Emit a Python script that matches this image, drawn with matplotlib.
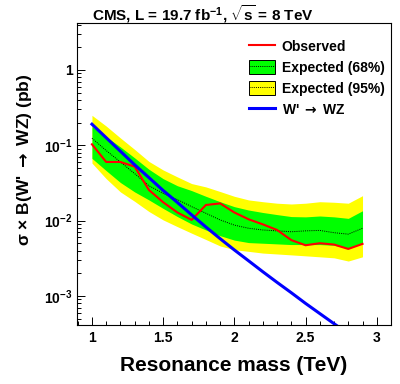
import numpy as np
import matplotlib
matplotlib.use("Agg")
import matplotlib.pyplot as plt
from matplotlib.lines import Line2D
from matplotlib.patches import Patch
from matplotlib.ticker import FixedLocator, FixedFormatter, MultipleLocator

plt.rcParams['font.family'] = ['Liberation Sans', 'DejaVu Sans']
plt.rcParams['font.weight'] = 'bold'
plt.rcParams['mathtext.fontset'] = 'custom'
plt.rcParams['mathtext.rm'] = 'Liberation Sans:bold'
plt.rcParams['mathtext.bf'] = 'Liberation Sans:bold'
plt.rcParams['mathtext.it'] = 'Liberation Sans:bold'
plt.rcParams['mathtext.sf'] = 'DejaVu Sans'
plt.rcParams['mathtext.default'] = 'rm'

# Масса резонанса (ТэВ)
mass = [1.0, 1.1, 1.2, 1.3, 1.4, 1.5, 1.6, 1.7, 1.8, 1.9,
        2.0, 2.1, 2.2, 2.3, 2.4, 2.5, 2.6, 2.7, 2.8, 2.9]

# Наблюдаемый предел (pb)
observed = [0.103, 0.060, 0.060, 0.052, 0.0255, 0.0175, 0.0128, 0.0102, 0.0161, 0.0169,
            0.0128, 0.0104, 0.0089, 0.0075, 0.0055, 0.0047, 0.0050, 0.0048, 0.0042, 0.0049]

# Ожидаемый предел (медиана)
expected = [0.124, 0.085, 0.060, 0.042, 0.029, 0.023, 0.019, 0.0153, 0.0125, 0.0102,
            0.0087, 0.0079, 0.0075, 0.0073, 0.0071, 0.0073, 0.0074, 0.0069, 0.0066, 0.0079]

# Полосы 68% и 95%
exp68_hi = [0.177, 0.13, 0.095, 0.068, 0.048, 0.036, 0.029, 0.025, 0.021, 0.0178,
            0.0153, 0.0138, 0.0128, 0.012, 0.0113, 0.0112, 0.0115, 0.0112, 0.0107, 0.0135]
exp68_lo = [0.067, 0.046, 0.032, 0.024, 0.0188, 0.0145, 0.0113, 0.0090, 0.0075, 0.0063,
            0.0055, 0.0051, 0.0050, 0.0049, 0.0048, 0.0048, 0.0048, 0.0047, 0.0043, 0.0050]
exp95_hi = [0.25, 0.18, 0.125, 0.088, 0.061, 0.047, 0.038, 0.031, 0.028, 0.0243,
            0.021, 0.0188, 0.0178, 0.017, 0.0166, 0.017, 0.0178, 0.0175, 0.017, 0.0214]
exp95_lo = [0.058, 0.036, 0.024, 0.018, 0.0132, 0.0102, 0.0083, 0.0068, 0.0056, 0.0046,
            0.0041, 0.0039, 0.0037, 0.0036, 0.0035, 0.0034, 0.0033, 0.0032, 0.0029, 0.0033]

# Теория W' -> WZ
theory_mass = [1.0, 1.1, 1.2, 1.3, 1.4, 1.5, 1.6, 1.7, 1.8, 1.9,
               2.0, 2.1, 2.2, 2.3, 2.4, 2.5, 2.6, 2.7, 2.8]
theory = [0.1905, 0.126, 0.0832, 0.0550, 0.0372, 0.0251, 0.0174, 0.0119, 0.00822, 0.00575,
          0.00407, 0.00292, 0.00209, 0.00151, 0.00110, 0.000794, 0.000582, 0.000427, 0.000313]

yticks = [1e-3, 1e-2, 1e-1, 1]
ytick_labels = ['10$^{-3}$', '10$^{-2}$', '10$^{-1}$', '1']

fig = plt.figure(figsize=(4, 3.84), dpi=100)
ax = fig.add_axes([0.1925, 0.1536, 0.785, 0.7864])

ax.fill_between(mass, exp95_lo, exp95_hi, color='#ffff00', lw=0)
ax.fill_between(mass, exp68_lo, exp68_hi, color='#00ff00', lw=0)
ax.plot(mass, expected, color='black', lw=0.7, ls=(0, (1, 1.2)))
ax.plot(mass, observed, color='#ff0000', lw=1.5)
ax.plot(theory_mass, theory, color='#0000ff', lw=2.2)

ax.set_yscale('log')
ax.set_xlim(0.895, 3.1)
ax.set_ylim(4.1e-4, 4.2)

ax.xaxis.set_minor_locator(MultipleLocator(0.1))
ax.set_xticks([1, 1.5, 2, 2.5, 3])
ax.set_xticklabels(['1', '1.5', '2', '2.5', '3'])
ax.yaxis.set_major_locator(FixedLocator(yticks))
ax.yaxis.set_major_formatter(FixedFormatter(ytick_labels))

ax.tick_params(axis='both', which='both', direction='in', labelsize=10,
               top=False, right=False)
ax.tick_params(axis='both', which='major', length=6, width=0.7)
ax.tick_params(axis='both', which='minor', length=3, width=0.7)
ax.tick_params(axis='x', pad=4.5)
ax.tick_params(axis='y', pad=3)
for s in ax.spines.values():
    s.set_linewidth(0.8)

arrow = '$\\mathsf{\\rightarrow}$'
ax.set_xlabel('Resonance mass (TeV)', fontsize=15, fontweight='bold', labelpad=8)
fig.text(25 / 400, 1 - 160 / 384, "σ × B(W' " + arrow + " WZ) (pb)", rotation=90,
         ha='center', va='center', fontsize=12.5, fontweight='bold')
fig.text(203 / 400, 1 - 14 / 384, 'CMS, L = 19.7 fb$^{-1}$, $\\sqrt{s}$ = 8 TeV',
         ha='center', va='center', fontsize=11, fontweight='bold')

handles = [Line2D([], [], color='#ff0000', lw=1.5),
           (Patch(facecolor='#00ff00', edgecolor='black', lw=0.7),
            Line2D([], [], color='black', lw=0.7, ls=(0, (1, 1.2)))),
           (Patch(facecolor='#ffff00', edgecolor='black', lw=0.7),
            Line2D([], [], color='black', lw=0.7, ls=(0, (1, 1.2)))),
           Line2D([], [], color='#0000ff', lw=2.2)]
labels = ['Observed', 'Expected (68%)', 'Expected (95%)', "W' " + arrow + " WZ"]
ax.legend(handles, labels, loc='upper left', bbox_to_anchor=(0.548, 0.947),
          frameon=False, borderaxespad=0, borderpad=0, fontsize=10,
          handlelength=1.9, handleheight=1.2, labelspacing=0.45, handletextpad=0.45)

fig.savefig('out.png', dpi=100)
